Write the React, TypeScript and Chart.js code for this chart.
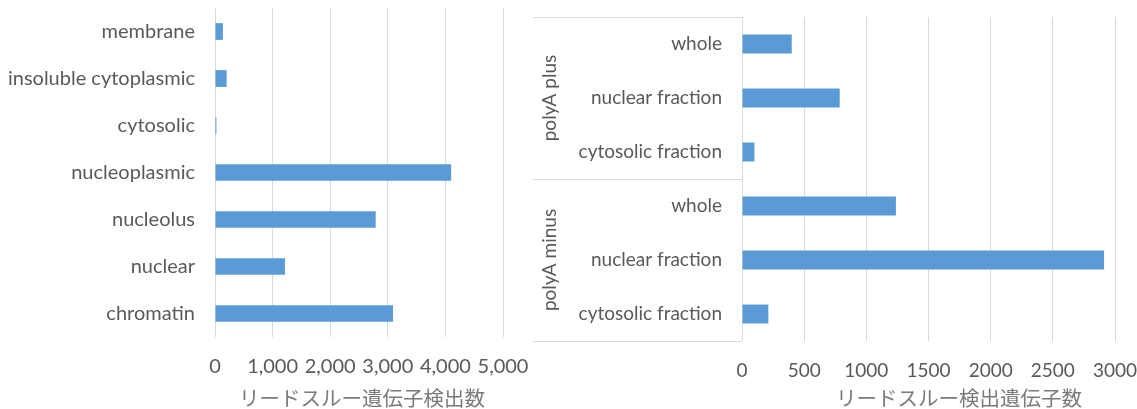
import React, { useEffect, useRef } from "react";
import { Chart, registerables } from "chart.js";

Chart.register(...registerables);

// ---------- data ----------
const leftCategories = [
  "membrane",
  "insoluble cytoplasmic",
  "cytosolic",
  "nucleoplasmic",
  "nucleolus",
  "nuclear",
  "chromatin",
];
const leftValues = [137, 202, 24, 4100, 2790, 1215, 3090];
const leftAxisMax = 5000;
const leftAxisStep = 1000;
const leftTitle = "リードスルー遺伝子検出数";

const rightGroups = ["polyA plus", "polyA minus"];
const rightSubCategories = ["whole", "nuclear fraction", "cytosolic fraction"];
const rightPlusValues = [400, 786, 100];
const rightMinusValues = [1238, 2912, 212];
const rightAxisMax = 3000;
const rightAxisStep = 500;
const rightTitle = "リードスルー検出遺伝子数";

// ---------- style ----------
const FONT = "Lato, 'Noto Sans', sans-serif";
const CJK = "'Noto Sans CJK JP', sans-serif";
const TEXT = "#595959";
const TITLE = "#7a7a7a";
const GRID = "#d9d9d9";
const BAR = "#5b9bd5";

const H = 409;
const LEFT_W = 533;
const RIGHT_W = 604;

function titlePlugin(text: string, dx: number, y: number) {
  return {
    id: "axisTitle",
    afterDraw(chart: any) {
      const { ctx, chartArea } = chart;
      ctx.save();
      ctx.fillStyle = TITLE;
      ctx.font = `20.5px ${CJK}`;
      ctx.textAlign = "center";
      ctx.textBaseline = "middle";
      ctx.fillText(text, (chartArea.left + chartArea.right) / 2 + dx, y);
      ctx.restore();
    },
  };
}

const groupPlugin = {
  id: "groups",
  afterDraw(chart: any) {
    const { ctx, chartArea } = chart;
    const { top, bottom, left } = chartArea;
    const n = rightGroups.length;
    ctx.save();
    ctx.strokeStyle = GRID;
    ctx.lineWidth = 1;
    for (let g = 0; g <= n; g++) {
      const y = Math.round(top + ((bottom - top) * g) / n) + 0.5;
      ctx.beginPath();
      ctx.moveTo(0, y);
      ctx.lineTo(left, y);
      ctx.stroke();
    }
    ctx.fillStyle = TEXT;
    ctx.font = `19px ${FONT}`;
    ctx.textAlign = "center";
    ctx.textBaseline = "middle";
    for (let g = 0; g < n; g++) {
      const cy = top + ((bottom - top) * (g + 0.5)) / n;
      ctx.save();
      ctx.translate(17, cy);
      ctx.rotate(-Math.PI / 2);
      ctx.fillText(rightGroups[g], 0, 0);
      ctx.restore();
    }
    ctx.restore();
  },
};

function makeScales(max: number, step: number, size: number, xHeight: number, yWidth: number, fmt: (v: number) => string) {
  return {
    x: {
      min: 0,
      max,
      ticks: {
        stepSize: step,
        color: TEXT,
        font: { family: FONT, size },
        padding: 18,
        callback: (v: any) => fmt(Number(v)),
      },
      grid: { color: GRID, drawTicks: false },
      border: { display: false },
      afterFit: (s: any) => {
        s.height = xHeight;
        s.paddingLeft = 0;
        s.paddingRight = 0;
      },
    },
    y: {
      ticks: {
        color: TEXT,
        font: { family: FONT, size },
        padding: 20,
      },
      grid: { display: false, drawTicks: false },
      border: { display: false },
      afterFit: (s: any) => {
        s.width = yWidth;
        s.paddingTop = 0;
        s.paddingBottom = 0;
      },
    },
  };
}

function LeftChart() {
  const ref = useRef<HTMLCanvasElement>(null);
  useEffect(() => {
    const chart = new Chart(ref.current!, {
      type: "bar",
      data: {
        labels: leftCategories,
        datasets: [
          {
            data: leftValues,
            backgroundColor: BAR,
            borderWidth: 0,
            barPercentage: 0.356,
            categoryPercentage: 1,
          },
        ],
      },
      options: {
        indexAxis: "y",
        animation: false,
        responsive: false,
        maintainAspectRatio: false,
        layout: { padding: { top: 8, right: 30, left: 0, bottom: 0 } },
        plugins: { legend: { display: false }, tooltip: { enabled: false } },
        scales: makeScales(leftAxisMax, leftAxisStep, 20, 72, 215, (v) => v.toLocaleString("en-US")),
      } as any,
      plugins: [titlePlugin(leftTitle, 3, 398)],
    });
    return () => chart.destroy();
  }, []);
  return <canvas ref={ref} width={LEFT_W} height={H} style={{ position: "absolute", left: 0, top: 0 }} />;
}

function RightChart() {
  const ref = useRef<HTMLCanvasElement>(null);
  useEffect(() => {
    const labels: string[] = [];
    rightGroups.forEach(() => rightSubCategories.forEach((s) => labels.push(s)));
    const values = [...rightPlusValues, ...rightMinusValues];
    const chart = new Chart(ref.current!, {
      type: "bar",
      data: {
        labels,
        datasets: [
          {
            data: values,
            backgroundColor: BAR,
            borderWidth: 0,
            barPercentage: 0.35,
            categoryPercentage: 1,
          },
        ],
      },
      options: {
        indexAxis: "y",
        animation: false,
        responsive: false,
        maintainAspectRatio: false,
        layout: { padding: { top: 17, right: 22, left: 0, bottom: 0 } },
        plugins: { legend: { display: false }, tooltip: { enabled: false } },
        scales: makeScales(rightAxisMax, rightAxisStep, 19, 68, 209, (v) => String(v)),
      } as any,
      plugins: [groupPlugin, titlePlugin(rightTitle, 30.5, 398)],
    });
    return () => chart.destroy();
  }, []);
  return <canvas ref={ref} width={RIGHT_W} height={H} style={{ position: "absolute", left: LEFT_W, top: 0 }} />;
}

export default function App() {
  return (
    <div
      style={{
        position: "absolute",
        left: 0,
        top: 0,
        width: LEFT_W + RIGHT_W,
        height: H,
        background: "#ffffff",
        overflow: "hidden",
      }}
    >
      <LeftChart />
      <RightChart />
    </div>
  );
}
